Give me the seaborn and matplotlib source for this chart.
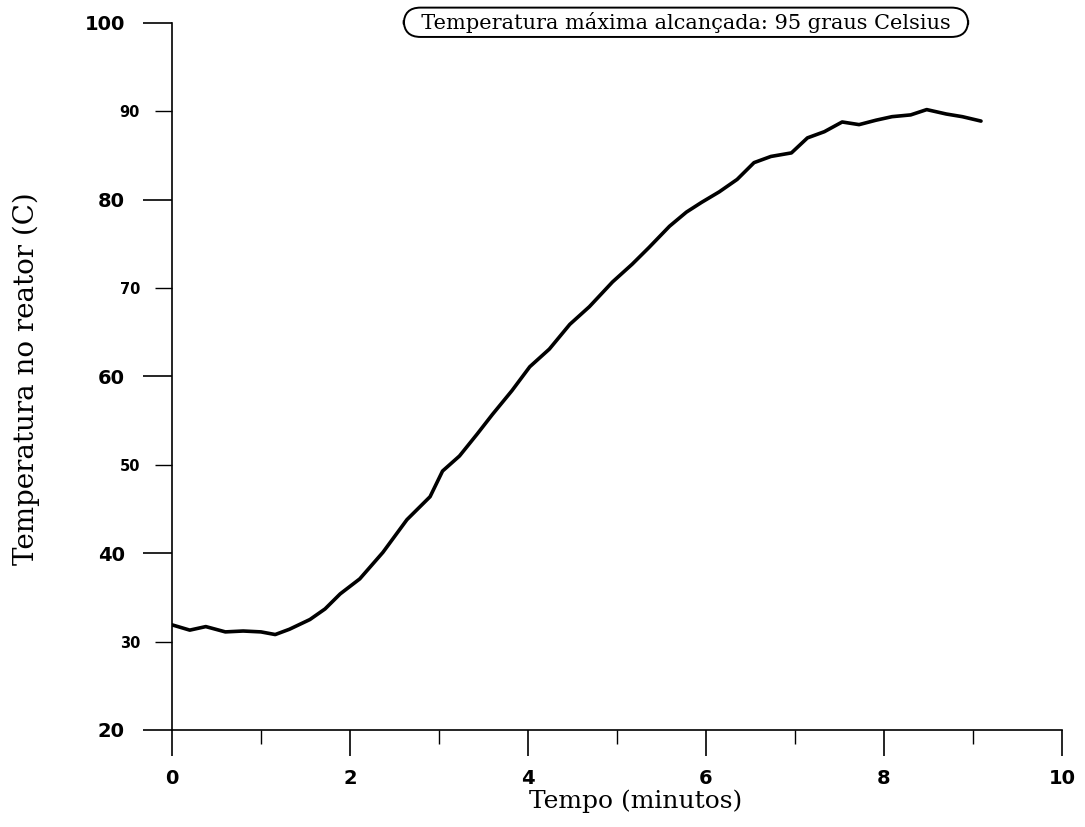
import matplotlib
matplotlib.use('Agg')
import matplotlib.pyplot as plt
from matplotlib.ticker import MultipleLocator, FormatStrFormatter, NullFormatter
import seaborn as sns
import pandas as pd

# Temperature readings
tempo = [0, 0.2, 0.38, 0.6, 0.8, 1.0, 1.16, 1.32, 1.55, 1.72, 1.89, 2.11, 2.37,
         2.64, 2.9, 3.04, 3.23, 3.43, 3.6, 3.82, 4.02, 4.24, 4.47, 4.69, 4.95,
         5.17, 5.36, 5.59, 5.78, 5.95, 6.15, 6.35, 6.54, 6.73, 6.96, 7.14, 7.33,
         7.53, 7.72, 7.91, 8.09, 8.3, 8.48, 8.7, 8.88, 9.09]
temperatura = [31.9, 31.3, 31.7, 31.1, 31.2, 31.1, 30.8, 31.4, 32.5, 33.7, 35.4,
               37.1, 40.1, 43.8, 46.4, 49.3, 51.0, 53.5, 55.7, 58.4, 61.1, 63.1,
               65.9, 67.9, 70.7, 72.7, 74.6, 77.0, 78.6, 79.7, 80.9, 82.3, 84.2,
               84.9, 85.3, 87.0, 87.7, 88.8, 88.5, 89.0, 89.4, 89.6, 90.2, 89.7,
               89.4, 88.9]
nota = 'Temperatura máxima alcançada: 95 graus Celsius'

df = pd.DataFrame({'Tempo': tempo, 'Temperatura': temperatura})

sns.set_style('ticks')
plt.rcParams['font.family'] = ['DejaVu Sans']
plt.rcParams['text.color'] = 'black'
plt.rcParams['axes.labelcolor'] = 'black'
plt.rcParams['xtick.color'] = 'black'
plt.rcParams['ytick.color'] = 'black'

fig = plt.figure(figsize=(10.85, 8.27), dpi=100)
ax = fig.add_axes([0.1585, 0.1173, 0.8203, 0.8549])

sns.lineplot(data=df, x='Tempo', y='Temperatura', ax=ax, color='black',
             linewidth=2.6, sort=False)

ax.set_xlim(0, 10)
ax.set_ylim(20, 100)

ax.xaxis.set_major_locator(MultipleLocator(2))
ax.xaxis.set_minor_locator(MultipleLocator(1))
ax.xaxis.set_minor_formatter(NullFormatter())
ax.yaxis.set_major_locator(MultipleLocator(20))
ax.yaxis.set_minor_locator(MultipleLocator(10))
ax.yaxis.set_minor_formatter(FormatStrFormatter('%d'))

# ticks point outward, long major / short minor, like the original
ax.tick_params(axis='x', which='major', direction='out', length=19, width=1.2,
               labelsize=14, pad=9)
ax.tick_params(axis='y', which='major', direction='out', length=21, width=1.2,
               labelsize=14, pad=13)
ax.tick_params(axis='x', which='minor', direction='out', length=10, width=1.0)
ax.tick_params(axis='y', which='minor', direction='out', length=12, width=1.0,
               labelsize=10.5, pad=11)
for lbl in ax.get_xticklabels() + ax.get_yticklabels() + ax.yaxis.get_minorticklabels():
    lbl.set_fontweight('bold')

sns.despine(ax=ax)
for s in ['left', 'bottom']:
    ax.spines[s].set_linewidth(1.2)
    ax.spines[s].set_color('black')

ax.set_xlabel('Tempo (minutos)', family='DejaVu Serif', fontsize=18)
ax.xaxis.set_label_coords(0.521, -0.0835)
ax.set_ylabel('Temperatura no reator (C)', family='DejaVu Serif', fontsize=20)
ax.yaxis.set_label_coords(-0.148, 0.497)

ax.text(0.5775, 1.001, '  ' + nota + '  ', transform=ax.transAxes,
        ha='center', va='center', family='DejaVu Serif', fontsize=15,
        bbox=dict(boxstyle='round,pad=0.2,rounding_size=0.8', fc='white',
                  ec='black', lw=1.4))

fig.savefig('out.png', dpi=100)
